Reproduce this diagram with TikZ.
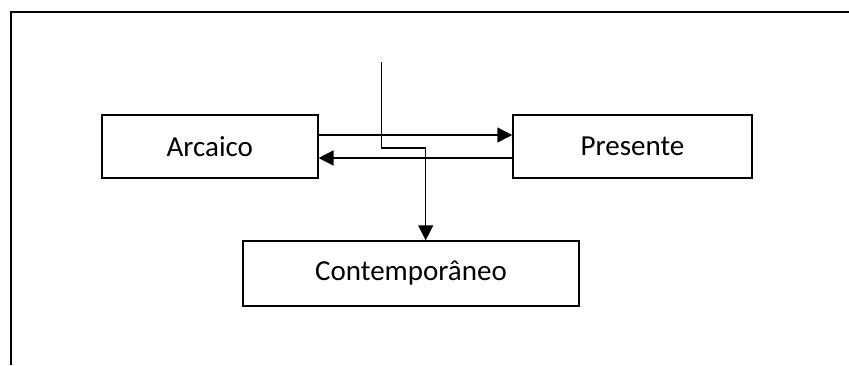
\documentclass[tikz,border=0pt]{standalone}
\usepackage{fontspec}
\setmainfont{Carlito}
\usetikzlibrary{arrows.meta}
\begin{document}
\begin{tikzpicture}[x=1pt,y=-1pt,
  box/.style={draw=black,line width=1.5pt,rectangle,inner sep=0pt,
    font=\fontsize{29}{34}\selectfont},
  conn/.style={line width=1.5pt,-{Triangle[length=15pt,width=15pt]}},
  plain/.style={line width=1.5pt}]
\useasboundingbox (0,0) rectangle (849,365);
\draw[line width=2.2pt] (11,365) -- (11,12) -- (849,12);
\node[box,minimum width=216pt,minimum height=63pt] (arc) at (209.8,146.5) {Arcaico};
\node[box,minimum width=239pt,minimum height=63pt] (pre) at (632.5,146.5) {Presente};
\node[box,minimum width=336pt,minimum height=65pt] (con) at (411,273.5) {Contemporâneo};
\coordinate (top) at (381.7,62);
\coordinate (bend) at (425.7,148);
\draw[conn] ([yshift=11.5pt]arc.east) -- ([yshift=11.5pt]pre.west);
\draw[conn] ([yshift=-11.5pt]pre.west) -- ([yshift=-11.5pt]arc.east);
\draw[conn] (top) |- (bend) -- (bend |- con.north);
\end{tikzpicture}
\end{document}
